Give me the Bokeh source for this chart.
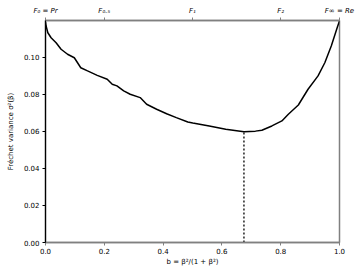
from bokeh.plotting import figure
from bokeh.models import LinearAxis, FixedTicker, Range1d, NumeralTickFormatter
from bokeh.embed import file_html
from bokeh.resources import INLINE

# curve: b = beta^2/(1+beta^2) vs Frechet variance
b_vals = [0.000, 0.002, 0.008, 0.019, 0.036, 0.053, 0.075, 0.098, 0.109, 0.120,
          0.143, 0.176, 0.210, 0.227, 0.243, 0.266, 0.288, 0.322, 0.344, 0.378,
          0.412, 0.445, 0.484, 0.501, 0.557, 0.613, 0.675, 0.714, 0.736, 0.770,
          0.804, 0.826, 0.860, 0.893, 0.927, 0.950, 0.972, 0.994, 1.000]
var_vals = [0.1190, 0.1168, 0.1132, 0.1105, 0.1078, 0.1043, 0.1016, 0.0997, 0.0970, 0.0943,
            0.0926, 0.0902, 0.0881, 0.0854, 0.0845, 0.0818, 0.0800, 0.0782, 0.0746, 0.0719,
            0.0695, 0.0674, 0.0650, 0.0645, 0.0629, 0.0611, 0.0598, 0.0601, 0.0606, 0.0629,
            0.0656, 0.0692, 0.0742, 0.0827, 0.0899, 0.0970, 0.1060, 0.1168, 0.1195]
min_b = 0.675
min_var = 0.0598

x_ticks = [0.0, 0.2, 0.4, 0.6, 0.8, 1.0]
y_ticks = [0.00, 0.02, 0.04, 0.06, 0.08, 0.10]
top_ticks = [0.0, 0.2, 0.5, 0.8, 1.0]
top_labels = ["F\u2080 = Pr", "F\u2080.\u2085", "F\u2081", "F\u2082", "F\u221e = Re"]

FS = "7px"
GRAY = "#808080"

p = figure(width=364, height=276, output_backend="svg", toolbar_location=None,
           x_range=Range1d(0, 1), y_range=Range1d(0, 0.1198),
           min_border_left=45, min_border_right=25, min_border_top=20, min_border_bottom=34)
p.grid.visible = False
p.outline_line_color = GRAY
p.outline_line_width = 1.5

p.line(b_vals, var_vals, line_color="black", line_width=1.5)
p.line([min_b, min_b], [0, min_var], line_color="black", line_width=1.3, line_dash="2 2")

xa = p.xaxis[0]
xa.ticker = FixedTicker(ticks=x_ticks)
xa.formatter = NumeralTickFormatter(format="0.0")
xa.axis_label = "b = β²/(1 + β²)"
xa.axis_line_color = GRAY
xa.axis_line_width = 1.5
xa.major_tick_line_color = GRAY
xa.minor_tick_line_color = None
xa.major_tick_in = 0
xa.major_tick_out = 3
xa.major_label_standoff = 2
xa.axis_label_standoff = 1

ya = p.yaxis[0]
ya.ticker = FixedTicker(ticks=y_ticks)
ya.formatter = NumeralTickFormatter(format="0.00")
ya.axis_label = "Fréchet variance σ²(β)"
ya.axis_line_color = "black"
ya.axis_line_width = 1.2
ya.major_tick_line_color = "black"
ya.minor_tick_line_color = None
ya.major_tick_in = 0
ya.major_tick_out = 3
ya.major_label_standoff = 3
ya.axis_label_standoff = 6

top = LinearAxis(ticker=FixedTicker(ticks=top_ticks),
                 major_label_overrides={t: l for t, l in zip(top_ticks, top_labels)})
top.axis_line_color = GRAY
top.axis_line_width = 1.5
top.major_tick_line_color = GRAY
top.minor_tick_line_color = None
top.major_tick_in = 0
top.major_tick_out = 3
top.major_label_standoff = 3
top.major_label_text_font_style = "italic"
p.add_layout(top, "above")

for ax in [xa, ya, top]:
    ax.major_label_text_font = "DejaVu Sans"
    ax.major_label_text_font_size = FS
    ax.major_label_text_color = "black"
    ax.axis_label_text_font = "DejaVu Sans"
    ax.axis_label_text_font_size = FS
    ax.axis_label_text_font_style = "normal"
    ax.axis_label_text_color = "black"

open("out.html", "w").write(file_html(p, INLINE))
